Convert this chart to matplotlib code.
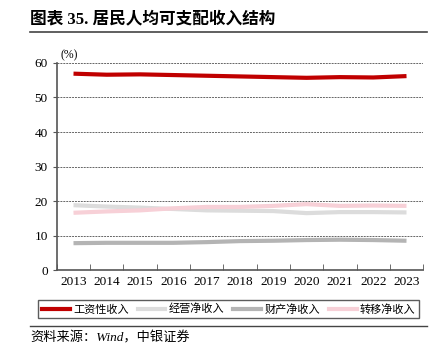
import matplotlib.pyplot as plt
from matplotlib.lines import Line2D
import numpy as np

plt.rcParams['font.family'] = ['Liberation Serif', 'Noto Sans CJK SC']

years = ['2013', '2014', '2015', '2016', '2017', '2018', '2019', '2020', '2021', '2022', '2023']
wage = [56.9, 56.6, 56.7, 56.5, 56.3, 56.1, 55.9, 55.7, 55.9, 55.8, 56.2]
business = [18.8, 18.4, 18.1, 17.7, 17.3, 17.2, 17.1, 16.5, 16.8, 16.8, 16.7]
prop = [7.8, 7.9, 7.9, 7.9, 8.1, 8.4, 8.5, 8.7, 8.8, 8.7, 8.5]
transfer = [16.6, 17.0, 17.3, 17.9, 18.3, 18.3, 18.6, 19.1, 18.6, 18.7, 18.6]
names = ['工资性收入', '经营净收入', '财产净收入', '转移净收入']
colors = ['#C00000', '#DCDCDC', '#B4B4B4', '#F7D0D7']

fig = plt.figure(figsize=(4.34, 3.64), dpi=100)
ax = fig.add_axes([0.131, 0.258, 0.844, 0.569])

x = np.arange(len(years))
series = [wage, business, prop, transfer]
# draw lighter ones first, red on top
for i in [1, 3, 2, 0]:
    ax.plot(x, series[i], color=colors[i], lw=3, solid_capstyle='butt', zorder=3)

ax.set_xlim(-0.5, len(years) - 0.5)
ax.set_ylim(0, 60)
ax.set_yticks(range(0, 61, 10))
ax.set_xticks(x)
ax.set_xticklabels(years)
ax.set_xticks(np.arange(-0.5, len(years), 1), minor=True)
ax.tick_params(axis='x', which='major', length=0, labelsize=9.5, pad=4)
ax.tick_params(axis='x', which='minor', length=4, direction='in', color='#555555')
ax.tick_params(axis='y', length=3, direction='out', color='#555555', labelsize=9.5)
for s in ['top', 'right']:
    ax.spines[s].set_visible(False)
for s in ['left', 'bottom']:
    ax.spines[s].set_color('#555555')
    ax.spines[s].set_linewidth(1.2)
ax.grid(axis='y', linestyle=(0, (2, 1)), color='#666666', lw=0.7)
ax.set_axisbelow(True)
ax.text(0.01, 1.01, '(%)', transform=ax.transAxes, fontsize=8.5, va='bottom', ha='left')

handles = [Line2D([], [], color=c, lw=3) for c in colors]
leg = fig.legend(handles, names, loc='center', bbox_to_anchor=(0.527, 0.151), ncol=4,
                 frameon=True, fancybox=False, edgecolor='#333333',
                 handlelength=2.5, handletextpad=0.3, columnspacing=0.8, borderpad=0.35,
                 prop={'family': 'Noto Sans CJK SC', 'size': 8})
leg.get_frame().set_linewidth(1.0)

fig.text(0.07, 0.948, '图表 35. 居民人均可支配收入结构', fontsize=12, fontweight='bold',
         family=['Liberation Serif', 'Noto Sans CJK SC'], va='center', ha='left')
fig.add_artist(Line2D([0.07, 0.985], [0.912, 0.912], color='#444444', lw=1.2))
fig.add_artist(Line2D([0.07, 0.985], [0.104, 0.104], color='#444444', lw=1.0))
fig.text(0.07, 0.072, '资料来源：Wind，中银证券', fontsize=9.5, style='italic',
         family=['Liberation Serif', 'Noto Sans CJK SC'], va='center', ha='left')

fig.savefig('out.png', dpi=100)
